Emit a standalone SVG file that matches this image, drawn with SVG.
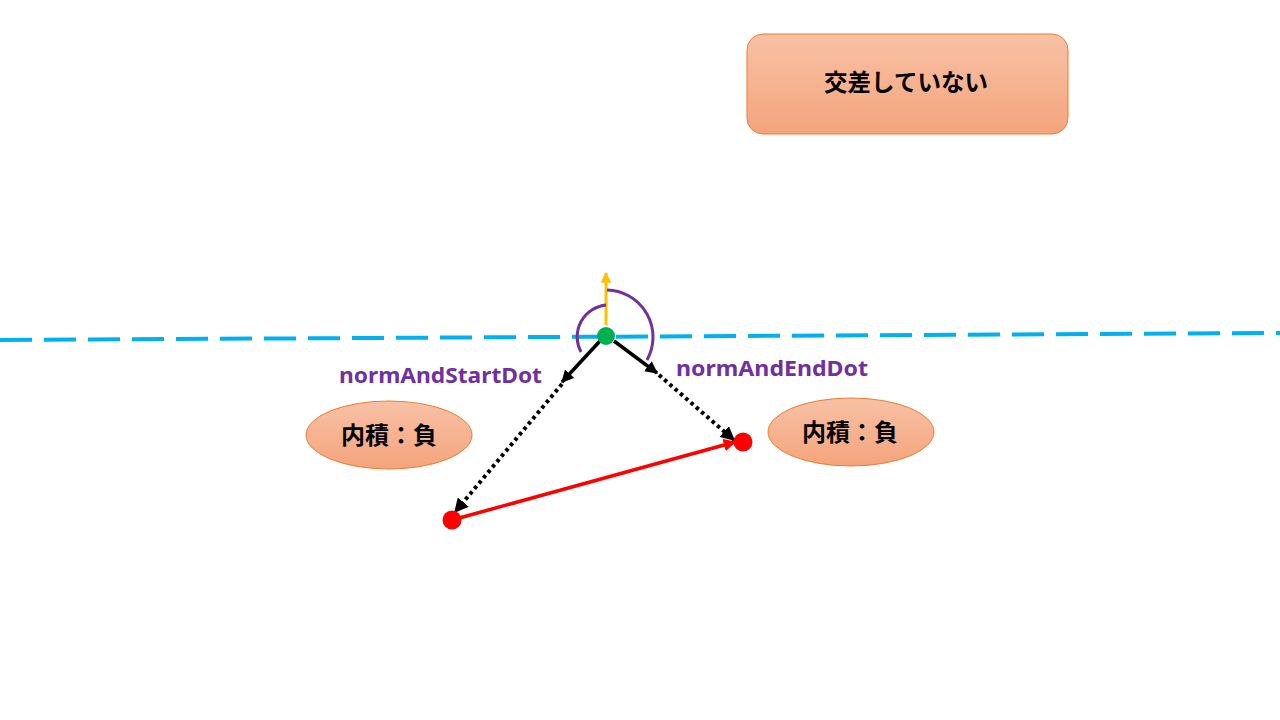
<svg xmlns="http://www.w3.org/2000/svg" width="1280" height="720" viewBox="0 0 1280 720">
<defs>
<linearGradient id="og" x1="0" y1="0" x2="0" y2="1">
<stop offset="0" stop-color="#F8C1A6"/>
<stop offset="1" stop-color="#F4A47C"/>
</linearGradient>
<marker id="ahk" viewBox="0 0 10 10" refX="9" refY="5" markerWidth="3.6" markerHeight="3.6" orient="auto" markerUnits="strokeWidth">
<path d="M0,0 L10,5 L0,10 z" fill="#000"/>
</marker>
<marker id="ahr" viewBox="0 0 10 10" refX="9" refY="5" markerWidth="3.6" markerHeight="3.6" orient="auto" markerUnits="strokeWidth">
<path d="M0,0 L10,5 L0,10 z" fill="#FF0000"/>
</marker>
<marker id="ahy" viewBox="0 0 10 10" refX="9" refY="5" markerWidth="3.6" markerHeight="3.6" orient="auto" markerUnits="strokeWidth">
<path d="M0,0 L10,5 L0,10 z" fill="#FFC000"/>
</marker>
</defs>
<style>
.shape{fill:url(#og);stroke:#ED7D31;stroke-width:1}
.jp{font-family:"Noto Sans CJK JP","Noto Sans",sans-serif;font-weight:bold;fill:#000;text-anchor:middle}
.lbl{font-family:"Noto Sans","Liberation Sans",sans-serif;font-weight:bold;fill:#7030A0;font-size:21.5px}
.dot{stroke:#000;stroke-width:4;stroke-dasharray:3.5 3.5;fill:none}
.blk{stroke:#000;stroke-width:3.5;fill:none}
.arc{stroke:#7030A0;stroke-width:3;fill:none}
</style>
<rect width="1280" height="720" fill="#fff"/>
<g id="baseline">
<line x1="0" y1="340" x2="1280" y2="333" stroke="#00B0F0" stroke-width="4" stroke-dasharray="32 12"/>
</g>
<g id="connectors">
<line x1="606" y1="325" x2="606" y2="273" stroke="#FFC000" stroke-width="3" marker-end="url(#ahy)"/>
<path class="arc" d="M581,352 A32,32 0 0 1 606,305"/>
<path class="arc" d="M607,290 A47,47 0 0 1 647,360"/>
<line class="blk" x1="600" y1="341" x2="562" y2="382" marker-end="url(#ahk)"/>
<line class="blk" x1="614" y1="341" x2="657" y2="373" marker-end="url(#ahk)"/>
<line class="dot" x1="562" y1="384" x2="455" y2="512" marker-end="url(#ahk)"/>
<line class="dot" x1="659" y1="375" x2="734" y2="440" marker-end="url(#ahk)"/>
<line x1="452" y1="520" x2="735" y2="442" stroke="#FF0000" stroke-width="3.5" marker-end="url(#ahr)"/>
</g>
<g id="origin"><circle cx="606" cy="336" r="9" fill="#00B050"/></g>
<g id="start"><circle cx="452" cy="520" r="9.5" fill="#FF0000"/></g>
<g id="end"><circle cx="743" cy="442" r="9.5" fill="#FF0000"/></g>
<g id="title">
<rect class="shape" x="747" y="34" width="321" height="100" rx="16"/>
<text class="jp" x="906" y="91" font-size="23.5">交差していない</text>
</g>
<g id="label-start">
<text class="lbl" x="339" y="383" textLength="203" lengthAdjust="spacingAndGlyphs">normAndStartDot</text>
</g>
<g id="label-end">
<text class="lbl" x="676" y="376" textLength="192" lengthAdjust="spacingAndGlyphs">normAndEndDot</text>
</g>
<g id="dot-start">
<ellipse class="shape" cx="389" cy="435" rx="83" ry="34"/>
<text class="jp" x="389" y="444" font-size="24">内積：負</text>
</g>
<g id="dot-end">
<ellipse class="shape" cx="851" cy="432" rx="83" ry="34"/>
<text class="jp" x="850" y="441" font-size="24">内積：負</text>
</g>
</svg>
